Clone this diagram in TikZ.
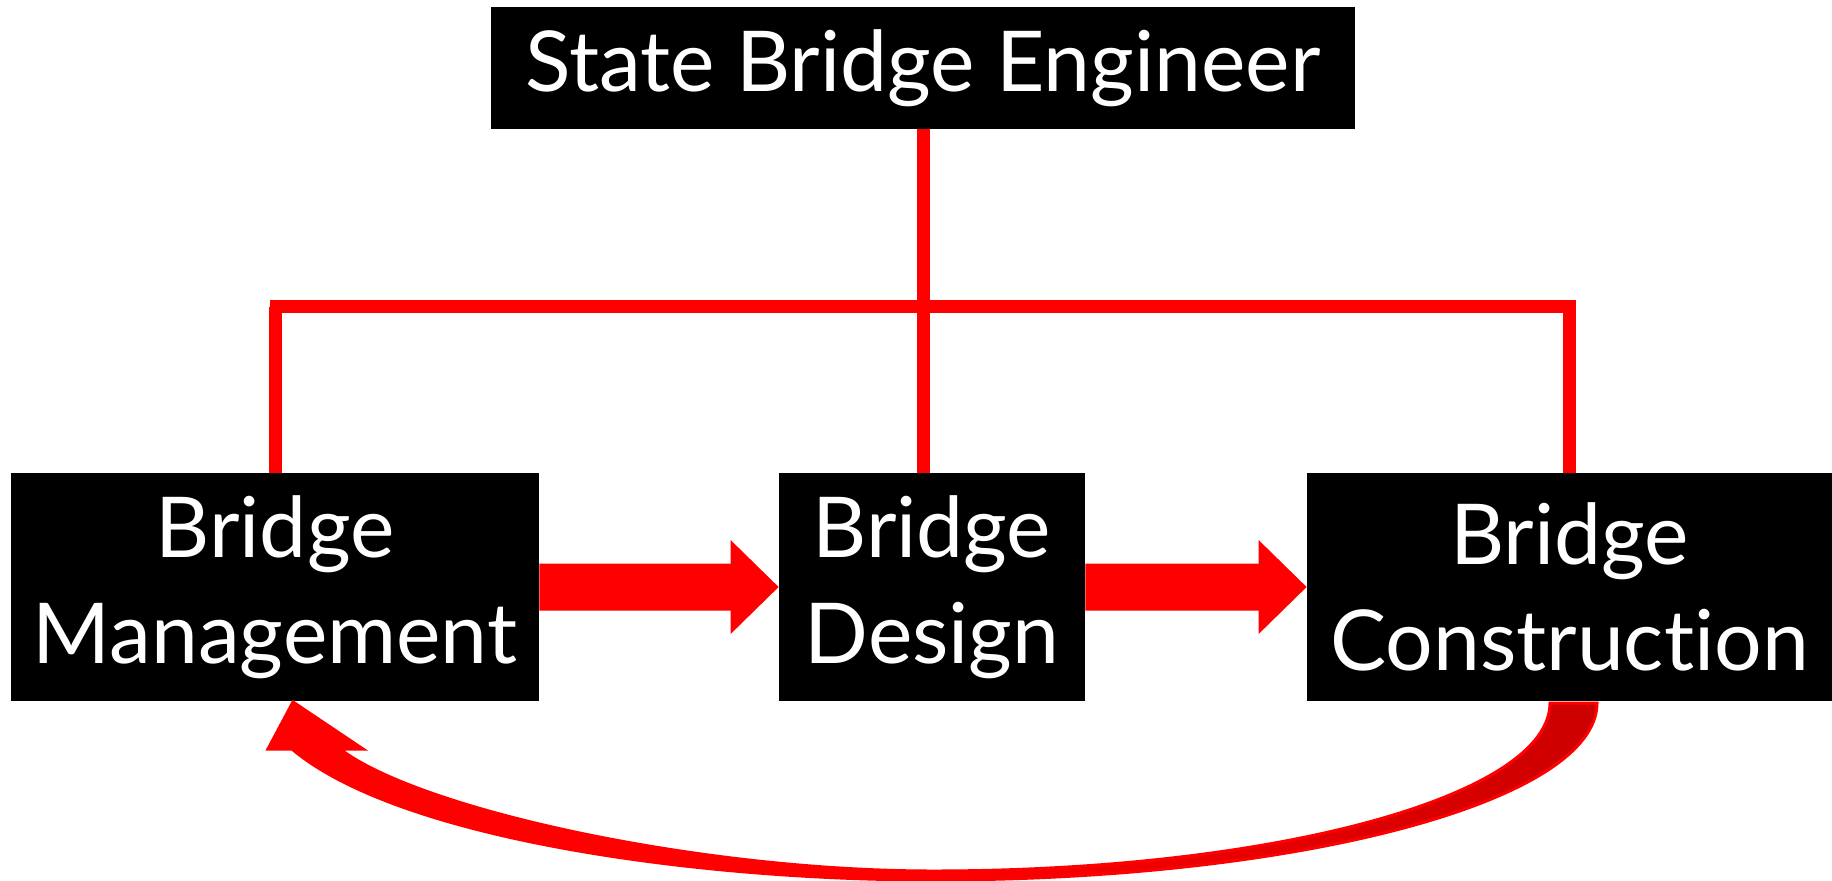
\documentclass[tikz,border=0pt]{standalone}
\usepackage{fontspec}
\setmainfont{Lato}[Ligatures={NoCommon,NoRare,NoContextual}]
\usetikzlibrary{calc}

\definecolor{deepred}{RGB}{204,0,0}

\tikzset{
  unit/.style={fill=black, text=white, inner sep=0pt, align=center,
    font=\fontsize{42}{53}\selectfont},
  link/.style={draw=red, line width=6.5pt},
  flow/.style={fill=red},
}

% block arrow from the east side of #1 to the west side of #2
\newcommand{\blockarrow}[2]{
  \fill[flow] ($(#1.east)+(0,-23.5)$) -- ($(#2.west)+(-48,-23.5)$) -- ($(#2.west)+(-48,-47)$)
    -- (#2.west) -- ($(#2.west)+(-48,47)$) -- ($(#2.west)+(-48,23.5)$)
    -- ($(#1.east)+(0,23.5)$) -- cycle;
}

\begin{document}
\begin{tikzpicture}[x=0.5pt, y=-0.5pt]
    \useasboundingbox (0,0) rectangle (1832,880);

    \node (eng) at (923,68) [unit, minimum width=432pt, minimum height=61pt] {State Bridge Engineer};
    \node (mgmt) at (275,587) [unit, minimum width=264pt, minimum height=114pt] {Bridge\\Management};
    \node (design) at (932,587) [unit, minimum width=153pt, minimum height=114pt] {Bridge\\Design};
    \node (build) at (1569.5,587) [unit, minimum width=262.5pt, minimum height=114pt] {Bridge\\Construction};

    % reporting lines
    \coordinate (barL) at (270,306.5);
    \coordinate (barR) at (1576,306.5);
    \draw[link] (eng.south) -- (eng.south |- design.north);
    \draw[link] (barL) -- (barR);
    \draw[link] (barL -| mgmt.north) -- (mgmt.north);
    \draw[link] (barR -| build.north) -- (build.north);

    % work flow
    \blockarrow{mgmt}{design}
    \blockarrow{design}{build}

    % feedback from construction back to management
    \path[left color=red, right color=deepred, middle color=red, draw=red, line width=1.5pt]
      (1597,703) .. controls (1597,801) and (1300,880) .. (933,880)
      .. controls (700,880) and (400,840) .. (292,749)
      -- (268,749) -- (293,702) -- (363,749) -- (340,749)
      .. controls (420,810) and (700,871) .. (933,871)
      .. controls (1274,871) and (1550,796) .. (1550,703) -- cycle;
\end{tikzpicture}
\end{document}
